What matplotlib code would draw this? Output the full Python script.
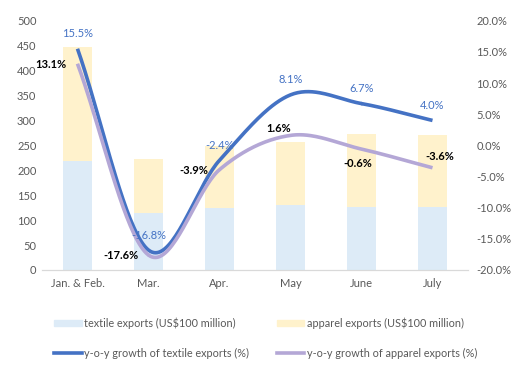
import numpy as np
import matplotlib
matplotlib.use("Agg")
import matplotlib.pyplot as plt
from matplotlib.ticker import FuncFormatter
from matplotlib.patches import Patch
from matplotlib.lines import Line2D

# %%
months = ['Jan. & Feb.', 'Mar.', 'Apr.', 'May', 'June', 'July']
textile_exports = [218, 115, 124, 130, 126, 126]
apparel_exports = [229, 107, 124, 127, 146, 144]
textile_growth = [15.5, -16.8, -2.4, 8.1, 6.7, 4.0]
apparel_growth = [13.1, -17.6, -3.9, 1.6, -0.6, -3.6]

# label offsets in pixels (x, y)
textile_offsets = [(0, 15)] * 6
apparel_offsets = [(-27, -1), (-28, 0), (-26, -1), (-12, 7), (-4, -14), (7, 11)]

plt.rcParams['font.family'] = ['Lato', 'DejaVu Sans']


def smooth(x, y, n=40):
    # catmull-rom, like excel's smoothed line
    x = np.asarray(x, float)
    y = np.asarray(y, float)
    px = np.concatenate([[2 * x[0] - x[1]], x, [2 * x[-1] - x[-2]]])
    py = np.concatenate([[2 * y[0] - y[1]], y, [2 * y[-1] - y[-2]]])
    xs, ys = [], []
    t = np.linspace(0, 1, n)
    for i in range(1, len(px) - 2):
        for p, out in ((px, xs), (py, ys)):
            p0, p1, p2, p3 = p[i - 1], p[i], p[i + 1], p[i + 2]
            out.extend(0.5 * (2 * p1 + (-p0 + p2) * t
                              + (2 * p0 - 5 * p1 + 4 * p2 - p3) * t ** 2
                              + (-p0 + 3 * p1 - 3 * p2 + p3) * t ** 3))
    return np.array(xs), np.array(ys)


# %%
fig = plt.figure(figsize=(5.32, 3.82), dpi=100)
ax = fig.add_axes([0.0789, 0.2932, 0.8008, 0.6526])
ax2 = ax.twinx()

x = np.arange(len(months))
c_tex_bar = '#DDEBF7'
c_app_bar = '#FFF2CC'
c_tex_line = '#4472C4'
c_app_line = '#B4A7D6'

ax.bar(x, textile_exports, width=0.4, color=c_tex_bar)
ax.bar(x, apparel_exports, width=0.4, bottom=textile_exports, color=c_app_bar)
ax.set_xlim(-0.5, 5.5)
ax.set_ylim(0, 500)
ax.set_yticks(range(0, 501, 50))
ax.set_xticks(x)
ax.set_xticklabels(months)

sx, sy = smooth(x, textile_growth)
ax2.plot(sx, sy, color=c_tex_line, lw=2.6, solid_capstyle='butt')
sx, sy = smooth(x, apparel_growth)
ax2.plot(sx, sy, color=c_app_line, lw=2.6, solid_capstyle='butt')
ax2.set_ylim(-20, 20)
ax2.set_yticks(range(-20, 21, 5))
ax2.yaxis.set_major_formatter(FuncFormatter(lambda v, p: '%.1f%%' % v))

for i, v in enumerate(textile_growth):
    ax2.annotate('%.1f%%' % v, (x[i], v), xytext=textile_offsets[i],
                 textcoords='offset pixels', ha='center', va='center',
                 color=c_tex_line, fontsize=8)
for i, v in enumerate(apparel_growth):
    ax2.annotate('%.1f%%' % v, (x[i], v), xytext=apparel_offsets[i],
                 textcoords='offset pixels', ha='center', va='center',
                 color='black', fontsize=8, fontweight='bold')

for a in (ax, ax2):
    for s in ('left', 'right', 'top'):
        a.spines[s].set_visible(False)
    a.spines['bottom'].set_color('#D9D9D9')
    a.tick_params(length=0, labelsize=8, colors='#595959')
ax.tick_params(axis='x', pad=6)
ax.tick_params(axis='y', pad=4)
ax2.tick_params(axis='y', pad=6)

handles = [
    Patch(color=c_tex_bar, label='textile exports (US$100 million)'),
    Line2D([], [], color=c_tex_line, lw=2.6, label='y-o-y growth of textile exports (%)'),
    Patch(color=c_app_bar, label='apparel exports (US$100 million)'),
    Line2D([], [], color=c_app_line, lw=2.6, label='y-o-y growth of apparel exports (%)'),
]
leg = fig.legend(handles=handles, ncol=2, loc='center', bbox_to_anchor=(0.5, 0.115),
                 frameon=False, fontsize=7.8, handlelength=2.5, handleheight=0.6,
                 handletextpad=0.25, columnspacing=2.6, labelspacing=1.75)
for t in leg.get_texts():
    t.set_color('#595959')

fig.savefig('out.png', dpi=100)
